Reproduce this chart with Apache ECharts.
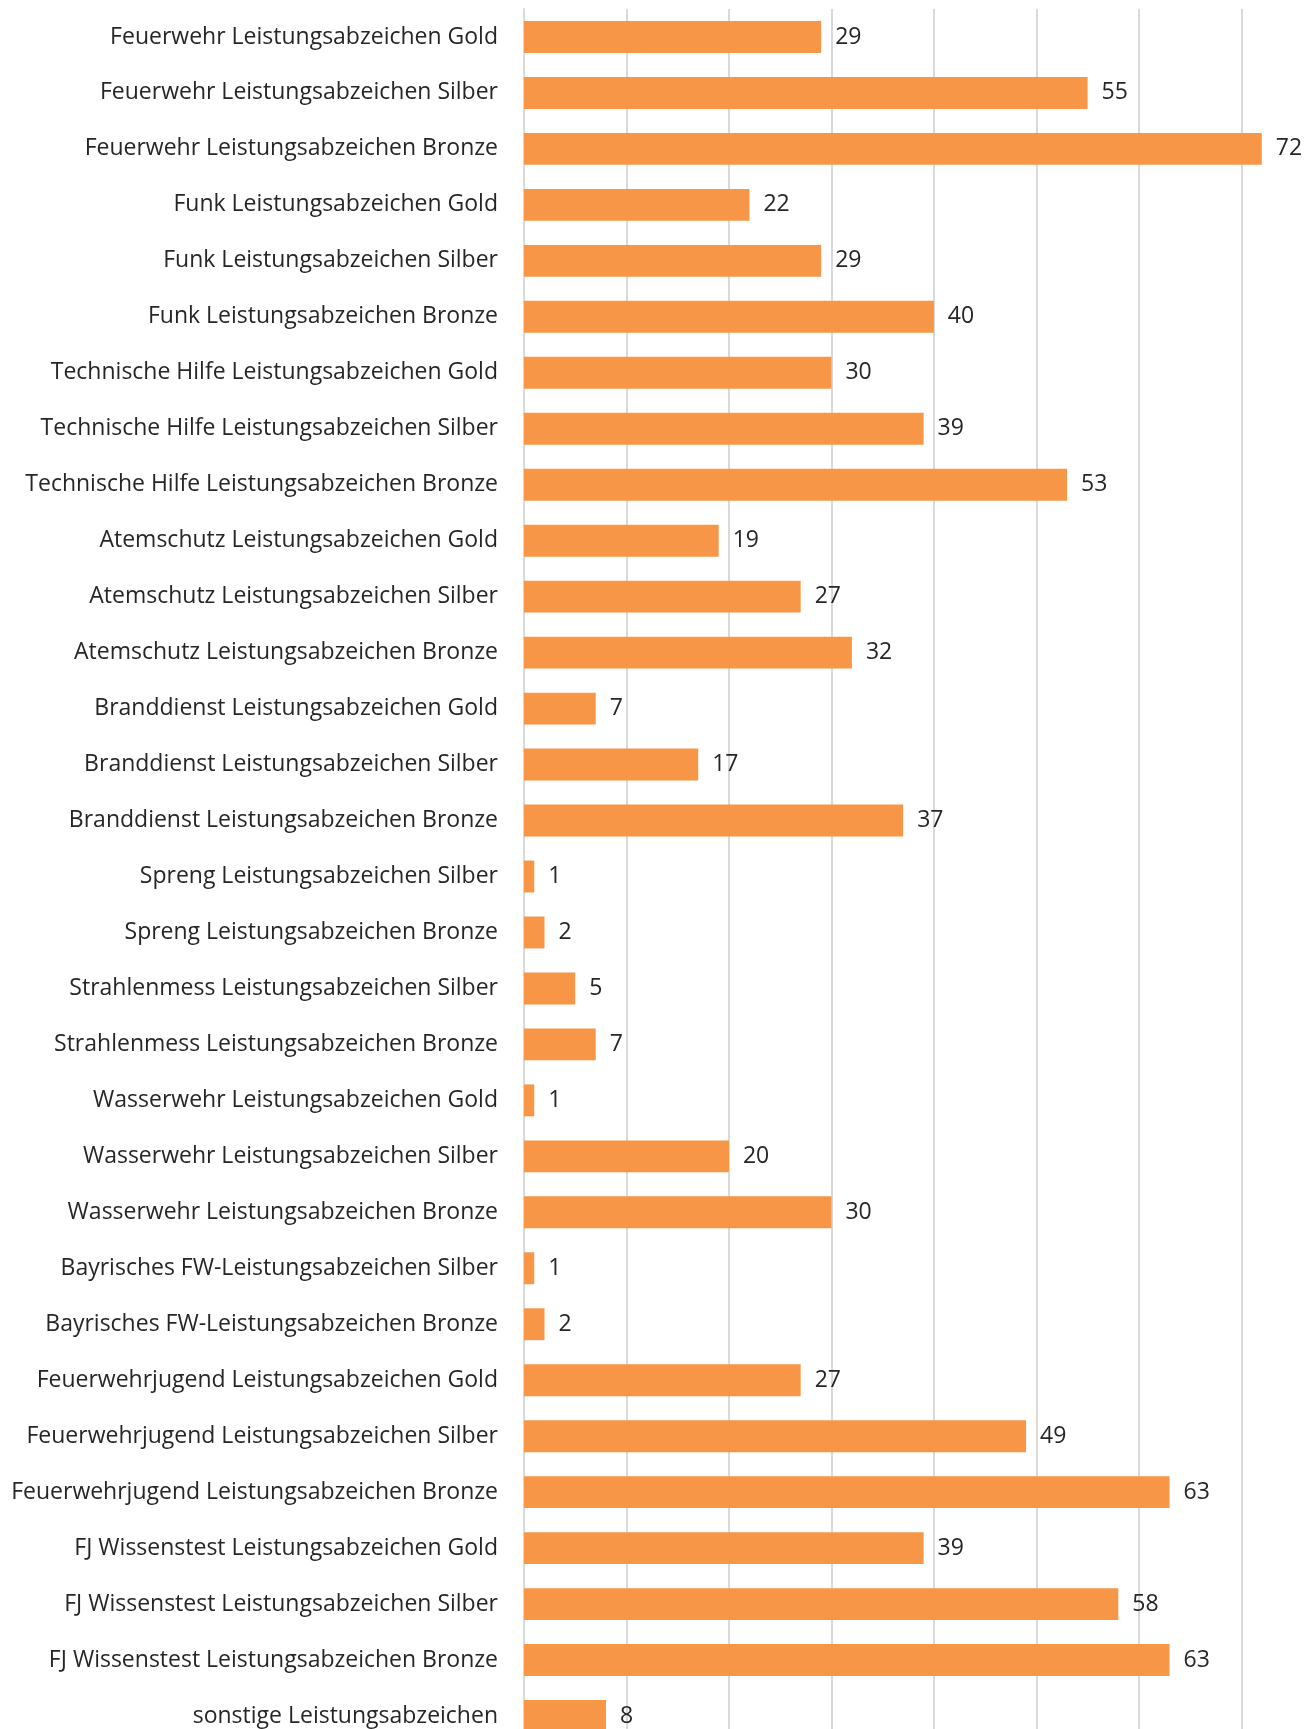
<!DOCTYPE html>
<html>
<head>
<meta charset="utf-8">
<script src="https://cdn.jsdelivr.net/npm/echarts@6/dist/echarts.min.js"></script>
<style>
  html, body { margin: 0; padding: 0; background: #fff; overflow: hidden; }
  #chart { width: 1313px; height: 1748px; }
</style>
</head>
<body>
<div id="chart"></div>
<script>
// Kategorien (von oben nach unten)
const categories = [
  'Feuerwehr Leistungsabzeichen Gold',
  'Feuerwehr Leistungsabzeichen Silber',
  'Feuerwehr Leistungsabzeichen Bronze',
  'Funk Leistungsabzeichen Gold',
  'Funk Leistungsabzeichen Silber',
  'Funk Leistungsabzeichen Bronze',
  'Technische Hilfe Leistungsabzeichen Gold',
  'Technische Hilfe Leistungsabzeichen Silber',
  'Technische Hilfe Leistungsabzeichen Bronze',
  'Atemschutz Leistungsabzeichen Gold',
  'Atemschutz Leistungsabzeichen Silber',
  'Atemschutz Leistungsabzeichen Bronze',
  'Branddienst Leistungsabzeichen Gold',
  'Branddienst Leistungsabzeichen Silber',
  'Branddienst Leistungsabzeichen Bronze',
  'Spreng Leistungsabzeichen Silber',
  'Spreng Leistungsabzeichen Bronze',
  'Strahlenmess Leistungsabzeichen Silber',
  'Strahlenmess Leistungsabzeichen Bronze',
  'Wasserwehr Leistungsabzeichen Gold',
  'Wasserwehr Leistungsabzeichen Silber',
  'Wasserwehr Leistungsabzeichen Bronze',
  'Bayrisches FW-Leistungsabzeichen Silber',
  'Bayrisches FW-Leistungsabzeichen Bronze',
  'Feuerwehrjugend Leistungsabzeichen Gold',
  'Feuerwehrjugend Leistungsabzeichen Silber',
  'Feuerwehrjugend Leistungsabzeichen Bronze',
  'FJ Wissenstest Leistungsabzeichen Gold',
  'FJ Wissenstest Leistungsabzeichen Silber',
  'FJ Wissenstest Leistungsabzeichen Bronze',
  'sonstige Leistungsabzeichen'
];

// Anzahl je Abzeichen
const counts = [
  29, 55, 72, 22, 29, 40, 30, 39, 53, 19, 27, 32, 7, 17, 37,
  1, 2, 5, 7, 1, 20, 30, 1, 2, 27, 49, 63, 39, 58, 63, 8
];

const chart = echarts.init(document.getElementById('chart'));

const font = '"Open Sans", "Noto Sans", sans-serif';

const option = {
  animation: false,
  grid: {
    left: 524,
    top: 9,
    width: 789,
    height: 1735,
    containLabel: false
  },
  xAxis: {
    type: 'value',
    min: 0,
    max: 77,
    interval: 10,
    axisLabel: { show: false },
    axisLine: { show: false },
    axisTick: { show: false },
    splitLine: {
      show: true,
      showMaxLine: false,
      lineStyle: { color: '#d9d9d9', width: 2 }
    }
  },
  yAxis: {
    type: 'category',
    inverse: true,
    data: categories,
    axisLine: { show: true, lineStyle: { color: '#d9d9d9', width: 2 } },
    axisTick: { show: false },
    axisLabel: {
      margin: 26,
      color: '#262626',
      fontFamily: font,
      fontSize: 23,
      padding: [3, 0, 0, 0]
    }
  },
  series: [
    {
      name: 'Anzahl',
      type: 'bar',
      data: counts,
      barCategoryGap: '43%',
      itemStyle: { color: '#f79646' },
      label: {
        show: true,
        position: 'right',
        distance: 14,
        color: '#262626',
        fontFamily: font,
        fontSize: 23,
        padding: [3, 0, 0, 0]
      }
    }
  ]
};

chart.setOption(option);
</script>
</body>
</html>
